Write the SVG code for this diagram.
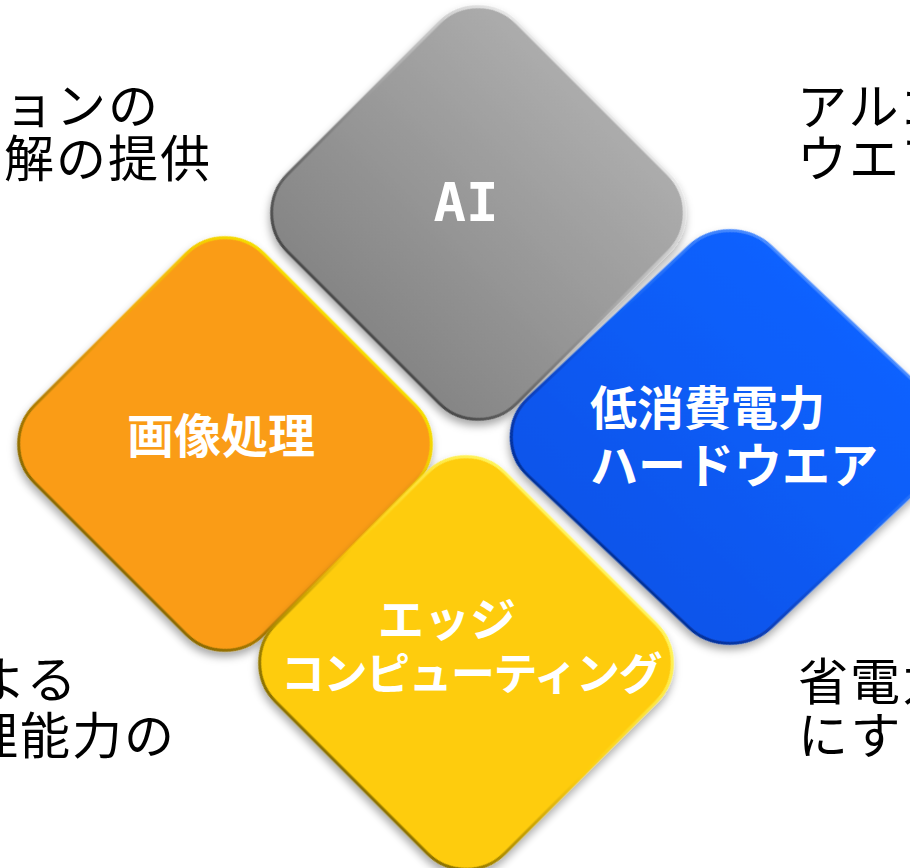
<svg xmlns="http://www.w3.org/2000/svg" width="910" height="868" viewBox="0 0 910 868">
<defs>
<filter id="sh" x="-20%" y="-20%" width="140%" height="140%">
<feDropShadow dx="3" dy="4" stdDeviation="4" flood-color="#000" flood-opacity="0.35"/>
</filter>
<linearGradient id="gGray" x1="0" y1="0" x2="0" y2="1"><stop offset="0" stop-color="#acacac"/><stop offset="1" stop-color="#858585"/></linearGradient>
<linearGradient id="sGray" x1="0" y1="0" x2="0" y2="1"><stop offset="0" stop-color="#e6e6e6"/><stop offset="0.5" stop-color="#999"/><stop offset="1" stop-color="#4a4a4a"/></linearGradient>
<linearGradient id="gBlue" x1="0" y1="0" x2="0" y2="1"><stop offset="0" stop-color="#0862ff"/><stop offset="1" stop-color="#0a54ea"/></linearGradient>
<linearGradient id="sBlue" x1="0" y1="0" x2="0" y2="1"><stop offset="0" stop-color="#4a8cff"/><stop offset="0.5" stop-color="#0a5cf5"/><stop offset="1" stop-color="#06309a"/></linearGradient>
<linearGradient id="sOrange" x1="0" y1="0" x2="0" y2="1"><stop offset="0" stop-color="#f5dc00"/><stop offset="0.5" stop-color="#f0a010"/><stop offset="1" stop-color="#8a6a00"/></linearGradient>
<linearGradient id="sYellow" x1="0" y1="0" x2="0" y2="1"><stop offset="0" stop-color="#fff45a"/><stop offset="0.5" stop-color="#fccc0a"/><stop offset="1" stop-color="#8a7000"/></linearGradient>
</defs>
<style>
.tile{filter:url(#sh);stroke-width:3}
.lbl{fill:#fff;font-family:"Noto Sans CJK JP","Noto Sans",sans-serif;font-weight:700}
.side{fill:#000;font-family:"Noto Sans CJK JP",sans-serif;font-weight:400;font-size:50px;letter-spacing:2px}
</style>
<g id="side-texts">
<text class="side" x="-48" y="124">ションの</text>
<text class="side" x="4" y="177">解の提供</text>
<text class="side" x="797" y="125">アルゴ</text>
<text class="side" x="797" y="177">ウエア</text>
<text class="side" x="-24" y="698">よる</text>
<text class="side" x="-32" y="754">理能力の</text>
<text class="side" x="798" y="700">省電力</text>
<text class="side" x="798" y="754">にす</text>
</g>
<g id="node-ai">
<rect class="tile" transform="translate(478,213) rotate(45)" x="-162" y="-162" width="324" height="324" rx="55" fill="url(#gGray)" stroke="url(#sGray)"/>
<text x="466" y="221" text-anchor="middle" style="fill:#fff;font-family:'DejaVu Sans Mono',monospace;font-weight:700;font-size:54px">AI</text>
</g>
<g id="node-image">
<rect class="tile" transform="translate(225,444) rotate(45)" x="-162" y="-162" width="324" height="324" rx="55" fill="#fa9c15" stroke="url(#sOrange)"/>
<text class="lbl" x="221" y="453" text-anchor="middle" font-size="47">画像処理</text>
</g>
<g id="node-hw">
<rect class="tile" transform="translate(730,437) scale(1.06,1) rotate(45)" x="-162" y="-162" width="324" height="324" rx="55" fill="url(#gBlue)" stroke="url(#sBlue)"/>
<text class="lbl" x="590" y="425" font-size="47">低消費電力</text>
<text class="lbl" x="590" y="483" font-size="48">ハードウエア</text>
</g>
<g id="node-edge">
<rect class="tile" transform="translate(466,663) rotate(45)" x="-162" y="-162" width="324" height="324" rx="55" fill="#fecc0a" stroke="url(#sYellow)"/>
<text class="lbl" x="447" y="636" text-anchor="middle" font-size="46">エッジ</text>
<text class="lbl" x="471" y="690" text-anchor="middle" font-size="44" letter-spacing="-1.5">コンピューティング</text>
</g>
<g id="connectors"></g>
</svg>
